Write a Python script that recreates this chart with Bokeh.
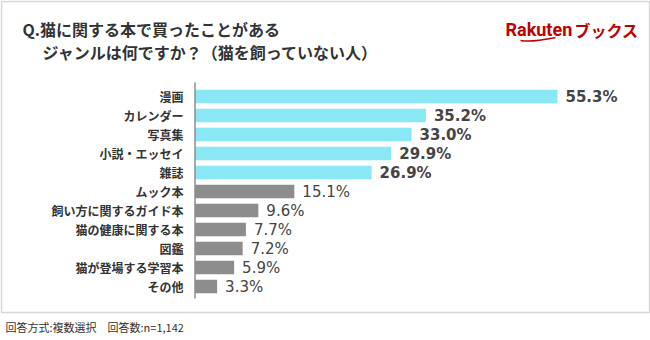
from bokeh.plotting import figure
from bokeh.models import Range1d
from bokeh.core.properties import value
from bokeh.embed import file_html
from bokeh.resources import INLINE

# ---- data ----
categories = ["漫画", "カレンダー", "写真集", "小説・エッセイ", "雑誌", "ムック本",
              "飼い方に関するガイド本", "猫の健康に関する本", "図鑑", "猫が登場する学習本", "その他"]
values = [55.3, 35.2, 33.0, 29.9, 26.9, 15.1, 9.6, 7.7, 7.2, 5.9, 3.3]
highlight = [True, True, True, True, True, False, False, False, False, False, False]
title_line1 = "Q.猫に関する本で買ったことがある"
title_line2 = "ジャンルは何ですか？（猫を飼っていない人）"
footnote = "回答方式:複数選択　回答数:n=1,142"

W, H = 650, 340
JP = "Noto Sans CJK JP"

# layout (pixels)
x0_px = 195.0          # x of value 0
px_per_pct = 362.0 / 55.3
row0_px = 96.0         # center of first row
row_step = 19.0

x_start = -x0_px / px_per_pct
x_end = (W - x0_px) / px_per_pct
y_bottom = (H - row0_px) / row_step
y_top = -row0_px / row_step

p = figure(width=W, height=H, output_backend="svg", toolbar_location=None,
           x_range=Range1d(x_start, x_end), y_range=Range1d(y_bottom, y_top),
           min_border=0, outline_line_color=None)
p.axis.visible = False
p.grid.visible = False
p.background_fill_color = "white"
p.border_fill_color = "white"

# pixel-space ranges for decoration / titles
p.extra_x_ranges = {"px": Range1d(0, W)}
p.extra_y_ranges = {"py": Range1d(H, 0)}

# frame box
p.quad(left=[1], right=[649], top=[1], bottom=[312], fill_color=None,
       line_color="#d6d6d6", line_width=1.5, x_range_name="px", y_range_name="py")

idx = list(range(len(categories)))
colors = ["#8ae8f4" if h else "#8d8d8d" for h in highlight]
p.hbar(y=idx, left=0, right=values, height=13.5 / row_step, fill_color=colors,
       line_color=None)

# axis line
p.segment(x0=[194.5], x1=[194.5], y0=[82], y1=[298], line_color="#555555",
          line_width=1, x_range_name="px", y_range_name="py")

# category labels
p.text(x=[0] * len(idx), y=idx, text=categories, x_offset=-12,
       text_align="right", text_baseline="middle", text_font=value(JP),
       text_font_size="12px", text_color="#333333", text_font_style="bold")

# value labels
hi_idx = [i for i in idx if highlight[i]]
lo_idx = [i for i in idx if not highlight[i]]
p.text(x=[values[i] for i in hi_idx], y=hi_idx, text=[f"{values[i]:.1f}%" for i in hi_idx],
       x_offset=8, text_align="left", text_baseline="middle",
       text_font=value("DejaVu Sans"), text_font_size="15px",
       text_font_style="bold", text_color="#444444")
p.text(x=[values[i] for i in lo_idx], y=lo_idx, text=[f"{values[i]:.1f}%" for i in lo_idx],
       x_offset=8, text_align="left", text_baseline="middle",
       text_font=value("DejaVu Sans"), text_font_size="15px",
       text_color="#444444")

# title
p.text(x=[22], y=[28], text=[title_line1], text_align="left", text_baseline="middle",
       text_font=value(JP), text_font_size="16px", text_font_style="bold",
       text_color="#333333", x_range_name="px", y_range_name="py")
p.text(x=[42], y=[51], text=[title_line2], text_align="left", text_baseline="middle",
       text_font=value(JP), text_font_size="16px", text_font_style="bold",
       text_color="#333333", x_range_name="px", y_range_name="py")

# logo
p.text(x=[505], y=[29], text=["Rakuten"], text_align="left", text_baseline="middle",
       text_font=value("Roboto"), text_font_size="18px", text_font_style="bold",
       text_color="#bf0000", x_range_name="px", y_range_name="py")
p.text(x=[574], y=[29], text=["ブックス"], text_align="left", text_baseline="middle",
       text_font=value(JP), text_font_size="16px", text_font_style="bold",
       text_color="#bf0000", x_range_name="px", y_range_name="py")
p.bezier(x0=[520], y0=[40], x1=[555], y1=[37], cx0=[532], cy0=[42], cx1=[545], cy1=[39],
         line_color="#bf0000", line_width=1.5, x_range_name="px", y_range_name="py")

# footnote
p.text(x=[5], y=[326], text=[footnote], text_align="left", text_baseline="middle",
       text_font=value(JP), text_font_size="11px", text_color="#333333",
       x_range_name="px", y_range_name="py")

open("out.html", "w").write(file_html(p, INLINE))
